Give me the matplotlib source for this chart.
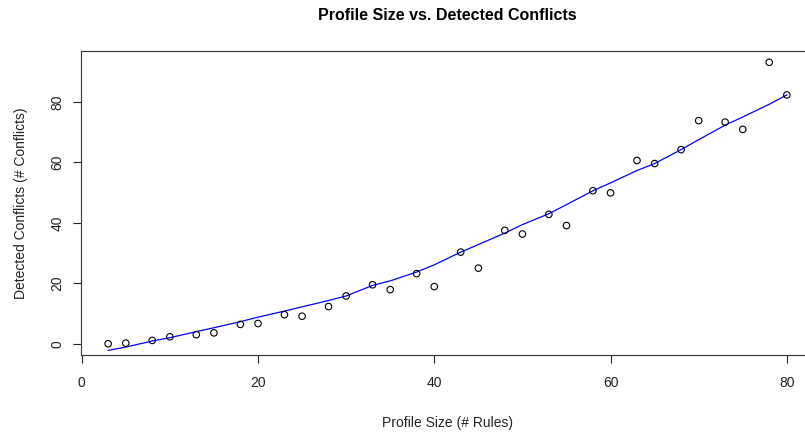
import matplotlib
matplotlib.use("Agg")
import matplotlib.pyplot as plt
import numpy as np

plt.rcParams['font.family'] = ['Liberation Sans', 'DejaVu Sans']

# profile size (# rules) and detected conflicts
profile_size = [3, 5, 8, 10, 13, 15, 18, 20, 23, 25, 28, 30, 33, 35, 38, 40,
                43, 45, 48, 50, 53, 55, 58, 60, 63, 65, 68, 70, 73, 75, 78, 80]
conflicts = [0.0, 0.2, 1.1, 2.3, 3.0, 3.6, 6.4, 6.7, 9.6, 9.1, 12.3, 15.8,
             19.5, 17.9, 23.2, 18.9, 30.3, 25.0, 37.5, 36.3, 42.8, 39.1, 50.6, 49.9,
             60.6, 59.6, 64.2, 73.8, 73.3, 70.9, 93.1, 82.3]

# smoothed fit (blue line)
fit = [-2.2, -1.1, 0.9, 2.0, 4.0, 5.3, 7.3, 8.8, 10.8, 12.2, 14.3, 15.8,
       19.3, 20.8, 23.7, 26.1, 30.3, 32.8, 36.6, 39.4, 43.0, 46.0, 50.6, 53.2,
       57.3, 59.6, 64.2, 67.5, 72.3, 75.0, 79.2, 82.3]

fig = plt.figure(figsize=(8.05, 4.33), dpi=100)
ax = fig.add_axes([81 / 805, 78 / 433, 733 / 805, 304 / 433])

ax.scatter(profile_size, conflicts, s=22, facecolors='none', edgecolors='black', linewidths=0.8, zorder=3)
ax.plot(profile_size, fit, color='blue', linewidth=0.9, zorder=2)

xr = max(profile_size) - min(profile_size)
ax.set_xlim(min(profile_size) - 0.04 * xr, max(profile_size) + 0.04 * xr)
yr = max(conflicts) - min(conflicts)
ax.set_ylim(min(conflicts) - 0.04 * yr, max(conflicts) + 0.04 * yr)

ax.set_xticks([0, 20, 40, 60, 80])
ax.set_yticks([0, 20, 40, 60, 80])
ax.tick_params(direction='out', length=6, width=0.8, labelsize=10, colors='#222222')
ax.tick_params(axis='x', pad=9)
ax.tick_params(axis='y', pad=6)
for lab in ax.get_yticklabels():
    lab.set_rotation(90)
    lab.set_va('center')

for sp in ax.spines.values():
    sp.set_linewidth(0.8)
    sp.set_color('#333333')

ax.set_xlabel('Profile Size (# Rules)', fontsize=10, labelpad=19, color='#222222')
ax.set_ylabel('Detected Conflicts (# Conflicts)', fontsize=10, labelpad=16, color='#222222')
fig.text(447 / 805, 1 - 16 / 433, 'Profile Size vs. Detected Conflicts', ha='center', va='center',
         fontsize=11.5, fontweight='bold')

fig.savefig('out.png', dpi=100)
